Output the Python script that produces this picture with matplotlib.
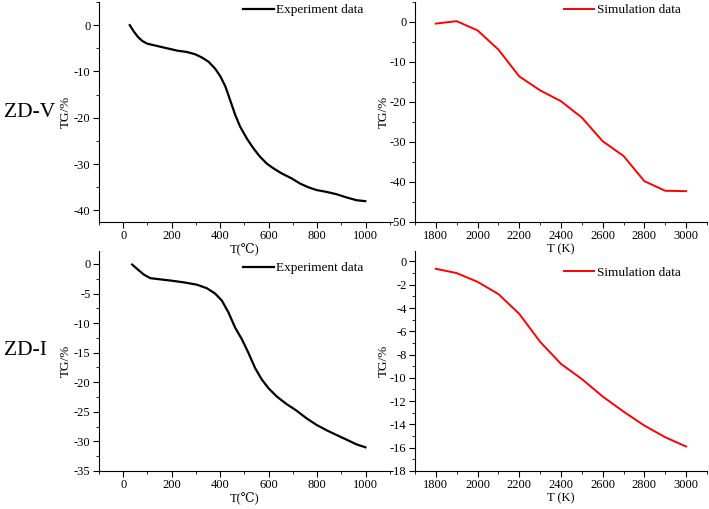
import matplotlib.pyplot as plt
from matplotlib.ticker import MultipleLocator

plt.rcParams['font.family'] = ['Liberation Serif', 'DejaVu Serif']
plt.rcParams['axes.unicode_minus'] = False

# ZD-V experiment (T in C, TG in %)
exp_v_t = [27, 44, 60, 78, 99, 140, 181, 222, 263, 297, 325, 352, 379, 400,
           421, 441, 462, 482, 510, 537, 564, 592, 619, 653, 695, 729, 763,
           797, 838, 879, 921, 962, 998]
exp_v_tg = [0.0, -1.4, -2.5, -3.4, -4.0, -4.5, -5.0, -5.5, -5.8, -6.3, -7.0,
            -7.9, -9.4, -11.0, -13.2, -16.2, -19.4, -21.9, -24.5, -26.6,
            -28.4, -29.9, -30.9, -32.0, -33.1, -34.2, -35.0, -35.6, -36.0,
            -36.5, -37.2, -37.8, -38.0]

# ZD-I experiment
exp_i_t = [37, 58, 85, 112, 153, 195, 249, 304, 345, 379, 407, 434, 462, 489,
           516, 544, 571, 599, 633, 674, 715, 756, 797, 838, 879, 921, 962, 999]
exp_i_tg = [-0.1, -0.85, -1.8, -2.4, -2.6, -2.8, -3.1, -3.5, -4.1, -5.0, -6.2,
            -8.2, -10.8, -12.7, -15.0, -17.6, -19.5, -21.0, -22.4, -23.7,
            -24.8, -26.1, -27.2, -28.1, -28.9, -29.7, -30.5, -31.0]

# simulation (T in K)
sim_t = [1800, 1900, 2000, 2100, 2200, 2300, 2400, 2500, 2600, 2700, 2800, 2900, 3000]
sim_v_tg = [-0.4, 0.2, -2.1, -6.9, -13.6, -17.1, -19.8, -23.9, -29.8, -33.5,
            -39.8, -42.2, -42.3]
sim_i_tg = [-0.63, -1.0, -1.75, -2.8, -4.5, -6.9, -8.8, -10.1, -11.6, -12.9,
            -14.1, -15.1, -15.9]

fig = plt.figure(figsize=(7.09, 5.09), dpi=100)
ax_tl = fig.add_axes([0.1396, 0.5639, 0.4104, 0.4322])
ax_tr = fig.add_axes([0.5853, 0.5639, 0.4118, 0.4322])
ax_bl = fig.add_axes([0.1396, 0.0747, 0.4104, 0.4322])
ax_br = fig.add_axes([0.5853, 0.0747, 0.4118, 0.4322])


def style(ax, xmaj, xmin, ymaj, ymin, leg_x, leg_y, lab_x):
    ax.patch.set_visible(False)
    ax.spines['top'].set_visible(False)
    ax.spines['right'].set_visible(False)
    ax.xaxis.set_major_locator(MultipleLocator(xmaj))
    ax.xaxis.set_minor_locator(MultipleLocator(xmin))
    ax.yaxis.set_major_locator(MultipleLocator(ymaj))
    ax.yaxis.set_minor_locator(MultipleLocator(ymin))
    ax.tick_params(which='major', direction='out', length=4, labelsize=9, pad=2)
    ax.tick_params(which='minor', direction='out', length=2)
    ax.set_ylabel('TG/%', fontsize=9.5)
    ax.yaxis.set_label_coords(lab_x, 0.5)
    ax.legend(loc='upper right', bbox_to_anchor=(leg_x, leg_y), frameon=False,
              fontsize=9.5, handlelength=2.3, handletextpad=0.2,
              borderaxespad=0, borderpad=0)


ax_tl.plot(exp_v_t, exp_v_tg, color='black', lw=1.6, label='Experiment data')
ax_tl.set_xlim(-100, 1100)
ax_tl.set_ylim(-42.5, 5)
style(ax_tl, 200, 100, 10, 5, 0.91, 0.99, -0.092)
ax_tl.set_xlabel('T(\u2103)', fontsize=9, labelpad=1)

ax_tr.plot(sim_t, sim_v_tg, color='red', lw=1.4, label='Simulation data')
ax_tr.set_xlim(1700, 3100)
ax_tr.set_ylim(-50, 5)
style(ax_tr, 200, 100, 10, 5, 0.91, 0.99, -0.087)
ax_tr.set_xlabel('T (K)', fontsize=9, labelpad=1)

ax_bl.plot(exp_i_t, exp_i_tg, color='black', lw=1.6, label='Experiment data')
ax_bl.set_xlim(-100, 1100)
ax_bl.set_ylim(-35, 2.2)
style(ax_bl, 200, 100, 5, 2.5, 0.91, 0.95, -0.092)
ax_bl.set_xlabel('T(\u2103)', fontsize=9, labelpad=1)

ax_br.plot(sim_t, sim_i_tg, color='red', lw=1.4, label='Simulation data')
ax_br.set_xlim(1700, 3100)
ax_br.set_ylim(-18, 0.9)
style(ax_br, 200, 100, 2, 1, 0.91, 0.93, -0.087)
ax_br.set_xlabel('T (K)', fontsize=9, labelpad=1)

fig.text(0.005, 0.778, 'ZD-V', fontsize=15.5, va='center', ha='left')
fig.text(0.005, 0.312, 'ZD-I', fontsize=15.5, va='center', ha='left')

plt.savefig('out.png')
